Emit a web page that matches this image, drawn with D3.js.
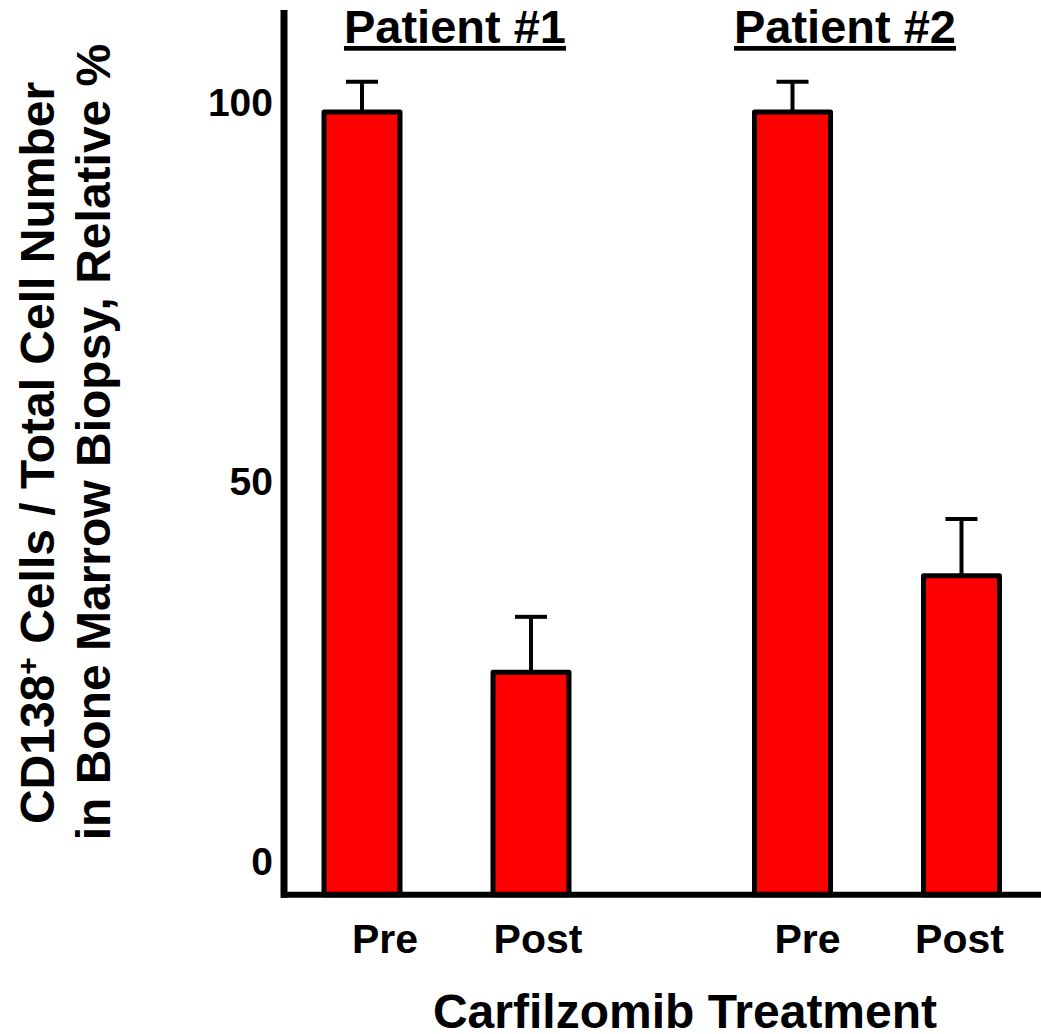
<!DOCTYPE html>
<html>
<head>
<meta charset="utf-8">
<script src="https://cdn.jsdelivr.net/npm/d3@7"></script>
<style>
  body { margin: 0; background: #fff; }
  text { font-family: "Liberation Sans", Arial, sans-serif; font-weight: bold; fill: #000; }
</style>
</head>
<body>
<div id="chart"></div>
<script>
var svgWidth = 1041;
var svgHeight = 1034;

// data
var patients = ["Patient #1", "Patient #2"];
var phases = ["Pre", "Post"];
var means = [[98.8, 25.0], [98.8, 37.7]];
var errors = [[4.0, 7.3], [4.0, 7.5]];
var tickValues = [0, 50, 100];

var svg = d3.select("#chart").append("svg")
  .attr("width", svgWidth)
  .attr("height", svgHeight);

var yScale = d3.scaleLinear()
  .domain([0, 100])
  .range([862, 103]);

// the axis floor sits a little below zero
var floorValue = -4.3;
var baseY = yScale(floorValue);

var xGroup = d3.scalePoint()
  .domain(patients)
  .range([446.5, 877]);

var xInner = d3.scalePoint()
  .domain(phases)
  .range([-84.5, 84.5]);

var barWidth = 76;

var rows = [];
patients.forEach(function(p, i) {
  phases.forEach(function(ph, j) {
    rows.push({patient: p, phase: ph, value: means[i][j], err: errors[i][j]});
  });
});

function cx(d) { return xGroup(d.patient) + xInner(d.phase); }

// error bars (behind the bars)
var errG = svg.append("g");
errG.selectAll("line.stem")
  .data(rows)
  .enter()
  .append("line")
  .attr("x1", cx)
  .attr("x2", cx)
  .attr("y1", d => yScale(d.value))
  .attr("y2", d => yScale(d.value + d.err))
  .attr("stroke", "#000")
  .attr("stroke-width", 4);

errG.selectAll("line.cap")
  .data(rows)
  .enter()
  .append("line")
  .attr("x1", d => cx(d) - 16)
  .attr("x2", d => cx(d) + 16)
  .attr("y1", d => yScale(d.value + d.err))
  .attr("y2", d => yScale(d.value + d.err))
  .attr("stroke", "#000")
  .attr("stroke-width", 4);

svg.append("g").selectAll("rect")
  .data(rows)
  .enter()
  .append("rect")
  .attr("x", d => cx(d) - barWidth / 2)
  .attr("y", d => yScale(d.value))
  .attr("width", barWidth)
  .attr("height", d => baseY - yScale(d.value))
  .attr("fill", "#ff0000")
  .attr("stroke", "#000")
  .attr("stroke-width", 5)
  .attr("stroke-linejoin", "round");

// axes lines
svg.append("line")
  .attr("x1", 284).attr("x2", 284)
  .attr("y1", 10).attr("y2", baseY + 3)
  .attr("stroke", "#000")
  .attr("stroke-width", 7);

svg.append("line")
  .attr("x1", 281).attr("x2", svgWidth)
  .attr("y1", baseY).attr("y2", baseY)
  .attr("stroke", "#000")
  .attr("stroke-width", 6);

var leftAxis = d3.axisLeft(yScale)
  .tickValues(tickValues)
  .tickSize(0)
  .tickPadding(11);

var yAxis = svg.append("g")
  .attr("transform", "translate(284, 0)")
  .call(leftAxis);
yAxis.select(".domain").remove();
yAxis.selectAll("text")
  .attr("font-size", "39px")
  .attr("font-family", null)
  .attr("fill", "#000");

// phase labels (the original sets them a bit off-centre)
var labelNudge = [23, 7, 15, -2];
svg.append("g").selectAll("text")
  .data(rows)
  .enter()
  .append("text")
  .attr("x", (d, i) => cx(d) + labelNudge[i])
  .attr("y", 953)
  .attr("text-anchor", "middle")
  .attr("font-size", "41px")
  .text(d => d.phase);

// patient titles
var titleNudge = [8.5, -32];
svg.append("g").selectAll("text")
  .data(patients)
  .enter()
  .append("text")
  .attr("x", (d, i) => xGroup(d) + titleNudge[i])
  .attr("y", 43)
  .attr("text-anchor", "middle")
  .attr("font-size", "47px")
  .attr("text-decoration", "underline")
  .text(d => d);

// x title
svg.append("text")
  .attr("x", 685)
  .attr("y", 1028)
  .attr("text-anchor", "middle")
  .attr("font-size", "48px")
  .text("Carfilzomib Treatment");

// y title
var yTitle = svg.append("text")
  .attr("transform", "translate(54, 453) rotate(-90)")
  .attr("text-anchor", "middle")
  .attr("font-size", "48px");
yTitle.append("tspan").text("CD138");
yTitle.append("tspan").attr("font-size", "30px").attr("dy", "-16").text("+");
yTitle.append("tspan").attr("dy", "16").text(" Cells / Total Cell Number");

svg.append("text")
  .attr("transform", "translate(110, 442) rotate(-90)")
  .attr("text-anchor", "middle")
  .attr("font-size", "48px")
  .text("in Bone Marrow Biopsy, Relative %");
</script>
</body>
</html>
